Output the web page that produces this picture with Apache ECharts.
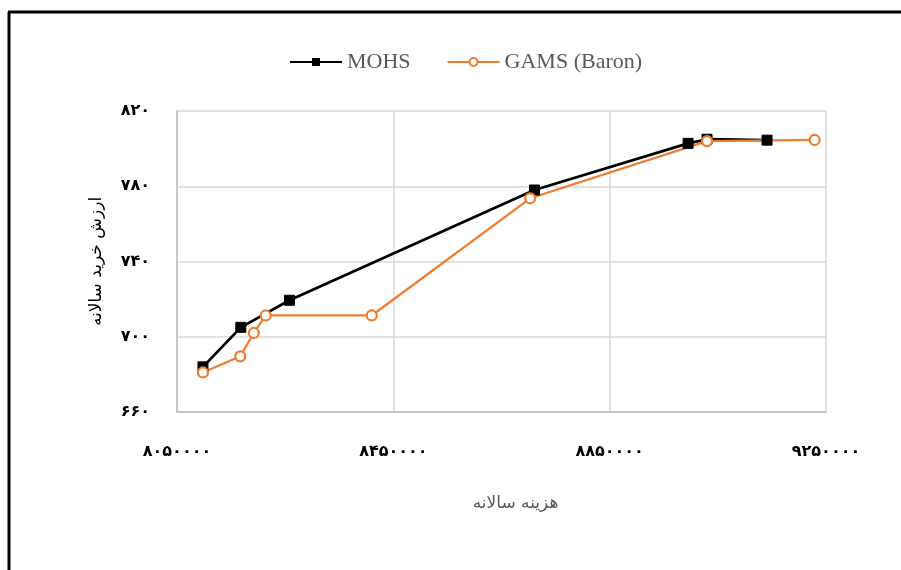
<!DOCTYPE html>
<html>
<head>
<meta charset="utf-8">
<script src="https://cdn.jsdelivr.net/npm/echarts@6/dist/echarts.min.js"></script>
<style>
  html, body { margin: 0; padding: 0; background: #fff; }
  #chart { width: 901px; height: 570px; }
</style>
</head>
<body>
<div id="chart"></div>
<script>
// داده‌ها (هزینه سالانه، ارزش خرید سالانه)
var mohsCost  = [8098000, 8168000, 8258000, 8711000, 8995000, 9030000, 9141000];
var mohsValue = [684, 705, 719.4, 778, 802.8, 805, 804.5];
var gamsCost  = [8098000, 8167000, 8192000, 8214000, 8410000, 8703000, 9030000, 9229000];
var gamsValue = [681, 689.6, 702, 711.3, 711.3, 773.6, 804, 804.6];
var xTicks = [8050000, 8450000, 8850000, 9250000];
var yTicks = [660, 700, 740, 780, 820];
var seriesNames = ["MOHS", "GAMS (Baron)"];

// محور از صفر شروع می‌شود تا تیک‌ها درست بیفتند، برچسب‌ها مقدار اصلی را نشان می‌دهند
var xBase = xTicks[0], yBase = yTicks[0];
var xStep = xTicks[1] - xTicks[0], yStep = yTicks[1] - yTicks[0];

function fa(v) {
  return String(v).replace(/\d/g, function (d) { return "۰۱۲۳۴۵۶۷۸۹"[d]; });
}
function pairs(xs, ys) {
  return xs.map(function (x, i) { return [x - xBase, ys[i] - yBase]; });
}

var myChart = echarts.init(document.getElementById("chart"));
myChart.setOption({
  backgroundColor: "#fff",
  animation: false,
  legend: {
    top: 46,
    left: 284,
    itemWidth: 52,
    itemHeight: 10,
    itemGap: 36,
    textStyle: { fontFamily: "Liberation Serif", fontSize: 22, color: "#595959" },
    data: seriesNames
  },
  grid: { left: 177, right: 75, top: 111, bottom: 158, containLabel: false },
  xAxis: {
    type: "value",
    min: 0,
    max: xTicks[xTicks.length - 1] - xBase,
    interval: xStep,
    name: "هزینه سالانه",
    nameLocation: "middle",
    nameGap: 83,
    nameTextStyle: { fontFamily: "DejaVu Sans", fontSize: 17, color: "#595959", padding: [0, 0, 0, 28] },
    axisLine: { show: true, lineStyle: { color: "#bfbfbf", width: 1.5 } },
    axisTick: { show: false },
    splitLine: { show: true, lineStyle: { color: "#d9d9d9", width: 1.5 } },
    axisLabel: {
      margin: 32,
      fontFamily: "DejaVu Sans",
      fontSize: 16,
      fontWeight: "bold",
      color: "#000",
      formatter: function (v) { return fa(v + xBase); }
    }
  },
  yAxis: {
    type: "value",
    min: 0,
    max: yTicks[yTicks.length - 1] - yBase,
    interval: yStep,
    name: "ارزش خرید سالانه",
    nameLocation: "middle",
    nameGap: 72,
    nameTextStyle: { fontFamily: "DejaVu Sans", fontSize: 17, color: "#000" },
    axisLine: { show: true, lineStyle: { color: "#bfbfbf", width: 1.5 } },
    axisTick: { show: false },
    splitLine: { show: true, lineStyle: { color: "#d9d9d9", width: 1.5 } },
    axisLabel: {
      margin: 27,
      fontFamily: "DejaVu Sans",
      fontSize: 16,
      fontWeight: "bold",
      color: "#000",
      formatter: function (v) { return fa(v + yBase); }
    }
  },
  graphic: [
    { type: "line", shape: { x1: 8, y1: 12, x2: 901, y2: 12 }, style: { stroke: "#000", lineWidth: 3 } },
    { type: "line", shape: { x1: 9, y1: 12, x2: 9, y2: 570 }, style: { stroke: "#000", lineWidth: 3 } }
  ],
  series: [
    {
      name: seriesNames[0],
      type: "line",
      data: pairs(mohsCost, mohsValue),
      symbol: "rect",
      symbolSize: 10,
      lineStyle: { color: "#000", width: 2.75 },
      itemStyle: { color: "#000", borderColor: "#000" }
    },
    {
      name: seriesNames[1],
      type: "line",
      data: pairs(gamsCost, gamsValue),
      symbol: "circle",
      symbolSize: 10,
      lineStyle: { color: "#ED7D31", width: 2.25 },
      itemStyle: { color: "#fff", borderColor: "#ED7D31", borderWidth: 2.25 }
    }
  ]
});
</script>
</body>
</html>
